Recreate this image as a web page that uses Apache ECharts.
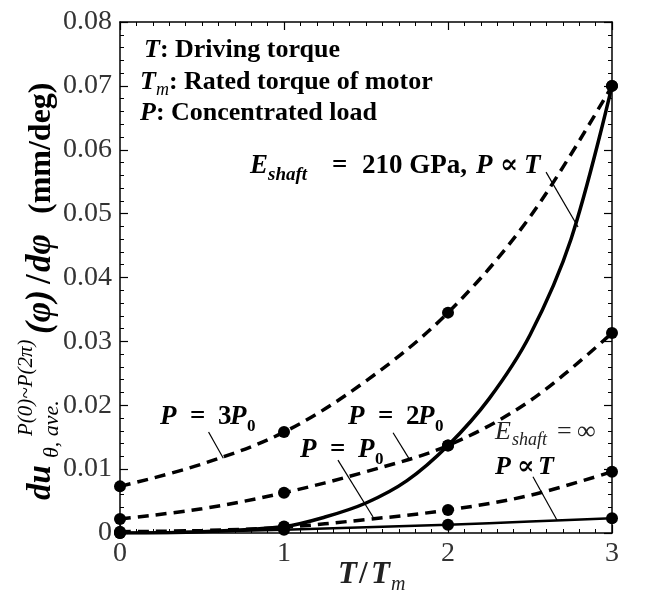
<!DOCTYPE html>
<html><head><meta charset="utf-8">
<script src="https://cdn.jsdelivr.net/npm/echarts@6/dist/echarts.min.js"></script>
<style>html,body{margin:0;padding:0;background:#fff}#c{width:646px;height:598px}</style>
</head><body><div id="c"></div>
<script>
// ---- data ----
const xTicks = [0, 1, 2, 3];
const curveX = [0, 0.5, 1, 1.5, 2, 2.5, 3];
const curveP3 = [0.0073, 0.0108, 0.0158, 0.0238, 0.0345, 0.0495, 0.0700];
const curveP2 = [0.0022, 0.0038, 0.0063, 0.0096, 0.0137, 0.0207, 0.0313];
const curveP1 = [0.0002, 0.0004, 0.0009, 0.0021, 0.0036, 0.0059, 0.0096];
const curveInfX = [0, 0.5, 1, 1.5, 2, 2.5, 3];
const curveInf = [0.0000, 0.0002, 0.0005, 0.0009, 0.0013, 0.0018, 0.0023];
const curveE210X = [0, 0.5, 1, 1.25, 1.5, 1.75, 2, 2.25, 2.5, 2.75, 3];
const curveE210 = [0.0000, 0.0002, 0.0010, 0.0025, 0.0047, 0.0082, 0.0137, 0.0210, 0.0310, 0.0460, 0.0700];
const ptsE210 = [0.0000, 0.0010, 0.0137, 0.0700];
const ptsInf = [0.0000, 0.0005, 0.0013, 0.0023];
const ptsP1 = [0.0002, 0.0009, 0.0036, 0.0096];
const ptsP2 = [0.0022, 0.0063, 0.0137, 0.0313];
const ptsP3 = [0.0073, 0.0158, 0.0345, 0.0700];
// leader lines (data coordinates: from label to curve)
const leaders = [
  [[2.598, 0.0565], [2.793, 0.0479]],
  [[0.54, 0.0158], [0.63, 0.0117]],
  [[1.665, 0.0157], [1.768, 0.0114]],
  [[1.329, 0.0114], [1.543, 0.0025]],
  [[2.518, 0.0088], [2.665, 0.0020]]
];

const SERIF = '"Liberation Serif","DejaVu Serif",serif';
const pairs = (xs, ys) => xs.map((x, i) => [x, ys[i]]);
const chart = echarts.init(document.getElementById('c'));

function xAxisCfg(pos, labels) {
  return {
    type: 'value', min: 0, max: 3, interval: 1, position: pos,
    axisLine: { show: true, onZero: false, lineStyle: { color: '#000', width: 1.5 } },
    axisTick: { show: true, inside: true, length: 8, lineStyle: { color: '#000', width: 1.2 } },
    minorTick: { show: true, splitNumber: 10, length: 4, lineStyle: { color: '#000', width: 1 } },
    splitLine: { show: false },
    axisLabel: { show: labels, fontFamily: SERIF, fontSize: 28, color: '#333', margin: 7 }
  };
}
function yAxisCfg(pos, labels) {
  return {
    type: 'value', min: 0, max: 0.08, interval: 0.01, position: pos,
    axisLine: { show: true, onZero: false, lineStyle: { color: '#000', width: 1.5 } },
    axisTick: { show: true, inside: true, length: 8, lineStyle: { color: '#000', width: 1.2 } },
    minorTick: { show: true, splitNumber: 5, length: 4, lineStyle: { color: '#000', width: 1 } },
    splitLine: { show: false },
    axisLabel: { show: labels, fontFamily: SERIF, fontSize: 28, color: '#333', margin: 8,
      formatter: v => (v === 0 ? '0' : v.toFixed(2)) }
  };
}
const dashed = { color: '#000', width: 3.5, type: [11, 7] };
function curve(name, xs, ys, ls) {
  return { name, type: 'line', data: pairs(xs, ys), smooth: 0.35, showSymbol: false, symbol: 'none',
    lineStyle: ls, z: 2, silent: true };
}
function pts(name, ys) {
  return { name, type: 'scatter', data: pairs(xTicks, ys), symbol: 'circle', symbolSize: 12,
    itemStyle: { color: '#000', opacity: 1 }, z: 5, silent: true };
}

chart.setOption({
  animation: false,
  grid: { left: 120, top: 22, width: 492, height: 511 },
  xAxis: [xAxisCfg('bottom', true), xAxisCfg('top', false)],
  yAxis: [yAxisCfg('left', true), yAxisCfg('right', false)],
  series: [
    curve('P3', curveX, curveP3, dashed),
    curve('P2', curveX, curveP2, dashed),
    curve('P1', curveX, curveP1, dashed),
    curve('Einf', curveInfX, curveInf, { color: '#000', width: 2.5 }),
    curve('E210', curveE210X, curveE210, { color: '#000', width: 3.5 }),
    pts('pE210', ptsE210), pts('pInf', ptsInf), pts('pP1', ptsP1), pts('pP2', ptsP2), pts('pP3', ptsP3),
    { type: 'line', data: [], silent: true,
      markLine: { silent: true, symbol: ['none', 'none'], label: { show: false },
        lineStyle: { color: '#000', width: 1.2, type: 'solid' },
        data: leaders.map(l => [{ coord: l[0] }, { coord: l[1] }]) } }
  ]
});

// ---- math-like text built from runs ----
const mctx = document.createElement('canvas').getContext('2d');
function fontOf(p, base) {
  const size = p.size || base;
  return { font: `${p.it ? 'italic' : 'normal'} ${p.b === false ? 'normal' : 'bold'} ${size}px ${SERIF}`, size };
}
// parts: {t, it, b, size, dy, gap, at (explicit offset along the run), stack}
function runText(x0, y0, parts, base, color, rotation) {
  const kids = [];
  let x = 0, pendingMax = 0;
  for (const p of parts) {
    const { font, size } = fontOf(p, base);
    mctx.font = font;
    const w = mctx.measureText(p.t).width;
    if (p.at !== undefined) x = p.at;
    kids.push({ type: 'text', x: x, y: (p.dy || 0) - 0.3 * size,
      style: { text: p.t, font: font, fill: color || '#000', align: 'left', verticalAlign: 'middle' } });
    if (p.stack) { pendingMax = Math.max(pendingMax, w); }
    else { x += Math.max(w, pendingMax) + (p.gap || 0); pendingMax = 0; }
  }
  return { type: 'group', x: x0, y: y0, rotation: rotation || 0, children: kids, silent: true };
}

const B = 26;
const graphics = [
  runText(144, 58, [{ t: 'T', it: true }, { t: ': Driving torque' }], B),
  runText(140, 90, [{ t: 'T', it: true }, { t: 'm', it: true, b: false, size: 18, dy: 6 }, { t: ': Rated torque of motor' }], B),
  runText(140, 121, [{ t: 'P', it: true }, { t: ': Concentrated load' }], B),
  runText(250, 174, [{ t: 'E', it: true, size: 27 }, { t: 'shaft', it: true, size: 19, dy: 7, at: 18 },
    { t: '=', size: 27, at: 82 }, { t: '210 GPa,', size: 27, at: 112 }, { t: 'P', it: true, size: 27, at: 226 },
    { t: '∝', size: 27, at: 250 }, { t: 'T', it: true, size: 27, at: 274 }], B),
  runText(160, 425, [{ t: 'P', it: true }, { t: '=', at: 30 }, { t: '3', at: 58 }, { t: 'P', it: true, at: 70 }, { t: '0', size: 17, dy: 7, at: 87 }], 27),
  runText(348, 425, [{ t: 'P', it: true }, { t: '=', at: 30 }, { t: '2', at: 58 }, { t: 'P', it: true, at: 70 }, { t: '0', size: 17, dy: 7, at: 87 }], 27),
  runText(300, 458, [{ t: 'P', it: true }, { t: '=', at: 30 }, { t: 'P', it: true, at: 58 }, { t: '0', size: 17, dy: 7, at: 75 }], 27),
  runText(495, 440, [{ t: 'E', it: true, b: false }, { t: 'shaft', it: true, b: false, size: 18, dy: 6, at: 17 },
    { t: '=', b: false, at: 62 }, { t: '∞', b: false, at: 82 }], 26, '#222'),
  runText(495, 475, [{ t: 'P', it: true }, { t: '∝', at: 22 }, { t: 'T', it: true, at: 43 }], 26),
  runText(338, 584, [{ t: 'T', it: true }, { t: '/', at: 21 }, { t: 'T', it: true, at: 33 }, { t: 'm', it: true, b: false, size: 20, dy: 7, at: 53 }], 31, '#222'),
  // y axis title, rotated (runs bottom to top)
  runText(51, 500, [{ t: 'du', it: true, size: 33 },
    { t: 'θ, ave.', it: true, b: false, size: 22, dy: 8, at: 42 },
    { t: 'P(0)~P(2π)', it: true, b: false, size: 21, dy: -18, at: 64 },
    { t: '(φ)', it: true, size: 35, at: 166 }, { t: '/', size: 35, at: 216 },
    { t: 'dφ', it: true, size: 35, at: 228 }, { t: '(mm/deg)', size: 32, at: 286 }], 30, '#000', Math.PI / 2)
];
chart.setOption({ graphic: graphics });
</script>
</body></html>
